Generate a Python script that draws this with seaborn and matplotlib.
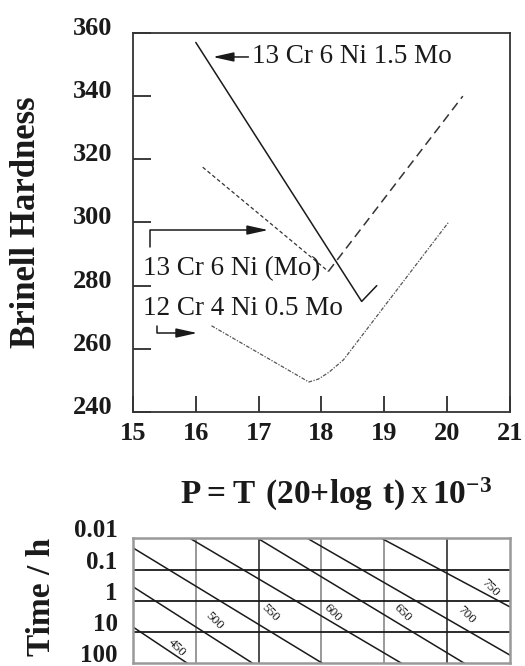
import numpy as np
import pandas as pd
import matplotlib.pyplot as plt
import matplotlib.transforms as mtransforms
import seaborn as sns

# Brinell hardness vs Larson-Miller parameter P
p_cr13ni6mo15 = [16.0, 18.64, 18.88]
hb_cr13ni6mo15 = [357, 275, 280]

p_cr13ni6mo = [16.11, 18.11, 20.25]
hb_cr13ni6mo = [317.5, 284.5, 340]

p_cr12ni4mo05 = [16.25, 17.80, 17.95, 18.12, 18.35, 20.02]
hb_cr12ni4mo05 = [267.3, 249.5, 250.4, 252.6, 256.5, 300]

p_ticks = [15, 16, 17, 18, 19, 20, 21]
hb_ticks = [240, 260, 280, 300, 320, 340, 360]

# nomogram isotherms (temperature, start and end)
temps = [450, 500, 550, 600, 650, 700, 750]
iso_p_start = [15.0, 15.0, 15.0, 15.91, 16.99, 17.78, 18.96]
iso_t_start = [6.8, 0.35, 0.02, 0.01, 0.01, 0.01, 0.01]
iso_p_end = [15.87, 16.91, 18.02, 19.28, 20.28, 21.0, 21.0]
iso_t_end = [100, 100, 100, 100, 100, 54, 1.55]
label_p = [15.70, 16.30, 17.18, 18.18, 19.29, 20.31, 20.68]
label_t = [31.6, 4.4, 2.4, 2.4, 2.4, 2.8, 0.38]
time_ticks = [0.01, 0.1, 1, 10, 100]
time_labels = ["0.01", "0.1", "1", "10", "100"]

sns.set_style("white")
plt.rcParams['font.family'] = ['Liberation Serif', 'DejaVu Serif']
plt.rcParams['mathtext.fontset'] = 'custom'
plt.rcParams['mathtext.rm'] = 'Liberation Serif'
plt.rcParams['mathtext.bf'] = 'Liberation Serif:bold'

fig = plt.figure(figsize=(5.25, 6.66), dpi=100)
ax = fig.add_axes([0.2533, 0.3814, 0.718, 0.5691])
ax2 = fig.add_axes([0.2533, 0.0038, 0.718, 0.1877])

# ---- top panel
sns.lineplot(x=p_cr13ni6mo15, y=hb_cr13ni6mo15, ax=ax, color='#1a1a1a', lw=1.1, sort=False)
sns.lineplot(x=p_cr13ni6mo[:2], y=hb_cr13ni6mo[:2], ax=ax, color='#333333', lw=0.9,
             linestyle=(0, (3, 2)), sort=False)
sns.lineplot(x=p_cr13ni6mo[1:], y=hb_cr13ni6mo[1:], ax=ax, color='#333333', lw=1.1,
             linestyle=(0, (6, 3.5)), sort=False)
sns.lineplot(x=p_cr12ni4mo05, y=hb_cr12ni4mo05, ax=ax, color='#555555', lw=0.9,
             linestyle=(0, (3, 1.2, 1, 1.2)), sort=False)

ax.set_xlim(15, 21)
ax.set_ylim(240, 360)
ax.set_xticks(p_ticks)
ax.set_yticks(hb_ticks)
ax.set_xticklabels([str(v) for v in p_ticks])
ax.set_yticklabels([str(v) for v in hb_ticks])
ax.tick_params(axis='y', direction='in', length=13, width=1.2, pad=15, left=True,
               labelsize=19, colors='#1a1a1a')
ax.tick_params(axis='x', direction='in', length=11.5, width=1.2, pad=7, bottom=True,
               labelsize=19, colors='#1a1a1a')
for lab in ax.get_xticklabels() + ax.get_yticklabels():
    lab.set_fontweight('bold')
for lab in ax.get_yticklabels():
    lab.set_transform(lab.get_transform() + mtransforms.ScaledTranslation(0, 0.07, fig.dpi_scale_trans))
for s in ax.spines.values():
    s.set_color('#333333')
    s.set_linewidth(1.3)

arrow = dict(arrowstyle='-|>,head_length=0.9,head_width=0.2', color='#1a1a1a', lw=1.1,
             shrinkA=0, shrinkB=0, mutation_scale=14)
ax.annotate('13 Cr 6 Ni 1.5 Mo', xy=(16.27, 352.4), xytext=(16.89, 352.4),
            ha='left', va='center', fontsize=19.5, color='#1a1a1a', arrowprops=arrow)
ax.annotate('', xy=(17.15, 297.6), xytext=(15.27, 292.2),
            arrowprops=dict(arrow, connectionstyle='angle,angleA=90,angleB=0,rad=0'))
ax.annotate('', xy=(16.02, 265.0), xytext=(15.38, 267.2),
            arrowprops=dict(arrow, connectionstyle='angle,angleA=90,angleB=0,rad=0'))
ax.text(15.16, 285.3, '13 Cr 6 Ni (Mo)', ha='left', va='center', fontsize=19.5, color='#1a1a1a')
ax.text(15.16, 272.9, '12 Cr 4 Ni 0.5 Mo', ha='left', va='center', fontsize=19.5, color='#1a1a1a')
ax.set_xlabel('')
ax.set_ylabel('')

fig.text(27 / 525, 1 - 222 / 666, 'Brinell Hardness', rotation=90, ha='center', va='center',
         fontsize=25, fontweight='bold', color='#1a1a1a')
fig.text(336 / 525, 1 - 494 / 666,
         r'$\mathbf{P = T\ (20{+}log\ t)}\,\mathrm{x}\,\mathbf{10^{-3}}$',
         ha='center', va='center', fontsize=24, color='#1a1a1a')

# ---- bottom nomogram
ax2.set_yscale('log')
ax2.set_xlim(15, 21)
ax2.set_ylim(100, 0.01)
for p in p_ticks[1:-1]:
    ax2.axvline(p, color='0.3' if p in (17, 20) else '0.6', lw=1.4, zorder=1)
for t in time_ticks[1:-1]:
    ax2.axhline(t, color='#1a1a1a', lw=1.3, zorder=1)
for i, temp in enumerate(temps):
    sns.lineplot(x=[iso_p_start[i], iso_p_end[i]], y=[iso_t_start[i], iso_t_end[i]], ax=ax2,
                 color='#1a1a1a', lw=1.1, sort=False)
    ax2.text(label_p[i], label_t[i], str(temp), rotation=-45, ha='center', va='center',
             fontsize=9.5, color='#1a1a1a')
ax2.set_xticks([])
ax2.set_yticks(time_ticks)
ax2.set_yticklabels(time_labels)
ax2.yaxis.set_minor_locator(plt.NullLocator())
ax2.tick_params(axis='y', length=0, pad=11, labelsize=18, colors='#1a1a1a')
for lab in ax2.get_yticklabels():
    lab.set_fontweight('bold')
    lab.set_transform(lab.get_transform() + mtransforms.ScaledTranslation(0, 0.1, fig.dpi_scale_trans))
for s in ax2.spines.values():
    s.set_color('0.6')
    s.set_linewidth(1.8)
ax2.set_xlabel('')
ax2.set_ylabel('')

fig.text(42 / 525, 1 - 597 / 666, 'Time / h', rotation=90, ha='center', va='center',
         fontsize=24, fontweight='bold', color='#1a1a1a')

fig.savefig('out.png', dpi=100)
